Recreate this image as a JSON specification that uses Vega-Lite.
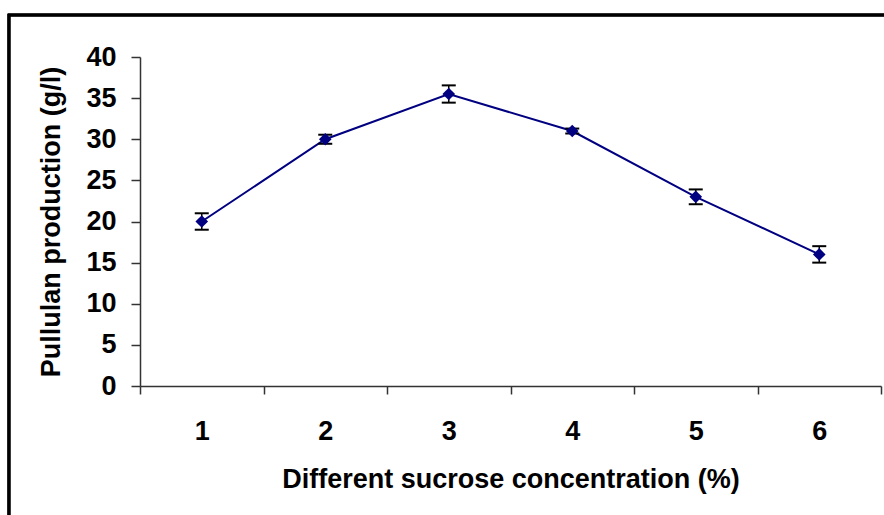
{
  "$schema": "https://vega.github.io/schema/vega-lite/v6.json",
  "width": 741,
  "height": 329,
  "autosize": {"type": "none"},
  "padding": {"left": 140, "top": 57, "right": 3, "bottom": 129},
  "background": "white",
  "config": {
    "view": {"stroke": null},
    "font": "Liberation Sans",
    "axis": {"labelFont": "Liberation Sans", "titleFont": "Liberation Sans", "labelFontWeight": "bold", "titleFontWeight": "bold", "labelColor": "black", "titleColor": "black", "domainColor": "#333333", "tickColor": "#333333", "grid": false, "labelFontSize": 27, "titleFontSize": 27, "domainWidth": 1.5, "tickWidth": 1.5}
  },
  "data": {
    "values": [
      {"conc": 1, "mean": 20.0, "err": 1.0},
      {"conc": 2, "mean": 30.0, "err": 0.55},
      {"conc": 3, "mean": 35.5, "err": 1.05},
      {"conc": 4, "mean": 31.0, "err": 0.3},
      {"conc": 5, "mean": 23.0, "err": 0.9},
      {"conc": 6, "mean": 16.0, "err": 1.0}
    ]
  },
  "layer": [
    {
      "mark": {"type": "rect", "fill": "transparent", "stroke": "black", "strokeWidth": 2.5},
      "encoding": {
        "x": {"datum": -0.561, "type": "quantitative", "scale": {"domain": [0.5, 6.5], "nice": false, "zero": false}, "axis": {"values": [0.5, 1, 1.5, 2, 2.5, 3, 3.5, 4, 4.5, 5, 5.5, 6, 6.5], "labelExpr": "datum.value % 1 === 0 ? format(datum.value, 'd') : ''", "tickSize": {"condition": {"test": "datum.value % 1 === 0", "value": 0}, "value": 8}, "labelPadding": 32, "title": "Different sucrose concentration (%)", "titlePadding": 22}},
        "x2": {"datum": 9},
        "y": {"datum": 45.1, "type": "quantitative", "scale": {"domain": [0, 40], "nice": false, "zero": true}, "axis": {"values": [0, 5, 10, 15, 20, 25, 30, 35, 40], "tickSize": 9, "labelPadding": 15, "title": "Pullulan production (g/l)", "titlePadding": 20}},
        "y2": {"datum": -30}
      }
    },
    {
      "mark": {"type": "line", "color": "#000080", "strokeWidth": 2},
      "encoding": {
        "x": {"field": "conc", "type": "quantitative", "title": "Different sucrose concentration (%)"},
        "y": {"field": "mean", "type": "quantitative", "title": "Pullulan production (g/l)"}
      }
    },
    {
      "mark": {"type": "errorbar", "color": "black", "opacity": 1, "ticks": {"size": 14, "thickness": 2, "color": "black", "opacity": 1}, "rule": {"color": "black", "strokeWidth": 1.5, "opacity": 1}},
      "encoding": {
        "x": {"field": "conc", "type": "quantitative", "title": "Different sucrose concentration (%)"},
        "y": {"field": "mean", "type": "quantitative", "title": "Pullulan production (g/l)"},
        "yError": {"field": "err"}
      }
    },
    {
      "mark": {"type": "point", "shape": "diamond", "filled": true, "color": "#000080", "size": 160, "opacity": 1},
      "encoding": {
        "x": {"field": "conc", "type": "quantitative", "title": "Different sucrose concentration (%)"},
        "y": {"field": "mean", "type": "quantitative", "title": "Pullulan production (g/l)"}
      }
    }
  ]
}
